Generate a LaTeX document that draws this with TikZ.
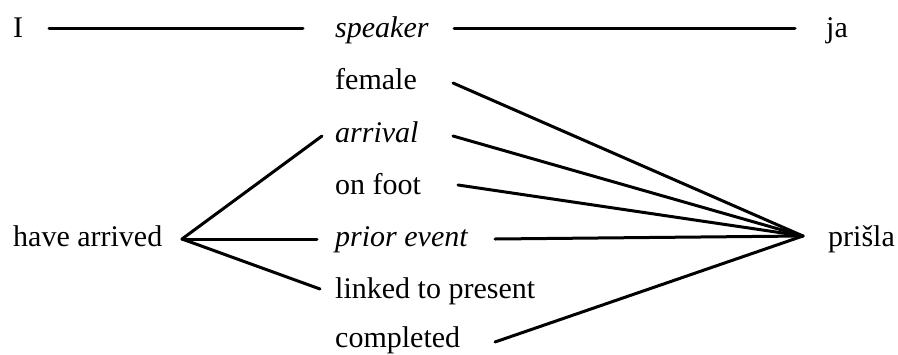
\documentclass[tikz,border=0pt]{standalone}
\usepackage{fontspec}
\setmainfont{Liberation Serif}
\begin{document}
\begin{tikzpicture}[x=1pt,y=-1pt,
  lbl/.style={anchor=base west, inner sep=0pt, font=\fontsize{30}{36}\selectfont},
  link/.style={line width=3pt, line cap=round}]
\useasboundingbox (0,0) rectangle (898,354);
% labels
\node[lbl] (I) at (13,37) {I};
\node[lbl] (speaker) at (335,37) {\itshape speaker};
\node[lbl] (ja) at (826,37) {ja};
\node[lbl] (female) at (335,89) {female};
\node[lbl] (arrival) at (335,142) {\itshape arrival};
\node[lbl] (onfoot) at (335,194) {on foot};
\node[lbl] (have) at (13,246) {have arrived};
\node[lbl] (prior) at (335,246) {\itshape prior event};
\node[lbl] (prisla) at (828,246) {prišla};
\node[lbl] (linked) at (335,298) {linked to present};
\node[lbl] (completed) at (335,347) {completed};
% connector ends
\coordinate (Iend) at (49,28);
\coordinate (spkL) at (303,28);
\coordinate (spkR) at (454,28);
\coordinate (jaend) at (795,28);
\coordinate (haveHub) at (182,239);
\coordinate (prislaHub) at (803,236);
\coordinate (arrL) at (322,136);
\coordinate (priorL) at (317,239);
\coordinate (linkL) at (320,289);
\coordinate (femR) at (453,83);
\coordinate (arrR) at (453,136);
\coordinate (footR) at (458,185);
\coordinate (priorR) at (495,239);
\coordinate (compR) at (495,342);
% connectors
\draw[link] (Iend) -- (spkL);
\draw[link] (spkR) -- (jaend);
\draw[link] (haveHub) -- (arrL);
\draw[link] (haveHub) -- (priorL);
\draw[link] (haveHub) -- (linkL);
\draw[link] (femR) -- (prislaHub);
\draw[link] (arrR) -- (prislaHub);
\draw[link] (footR) -- (prislaHub);
\draw[link] (priorR) -- (prislaHub);
\draw[link] (compR) -- (prislaHub);
\end{tikzpicture}
\end{document}
